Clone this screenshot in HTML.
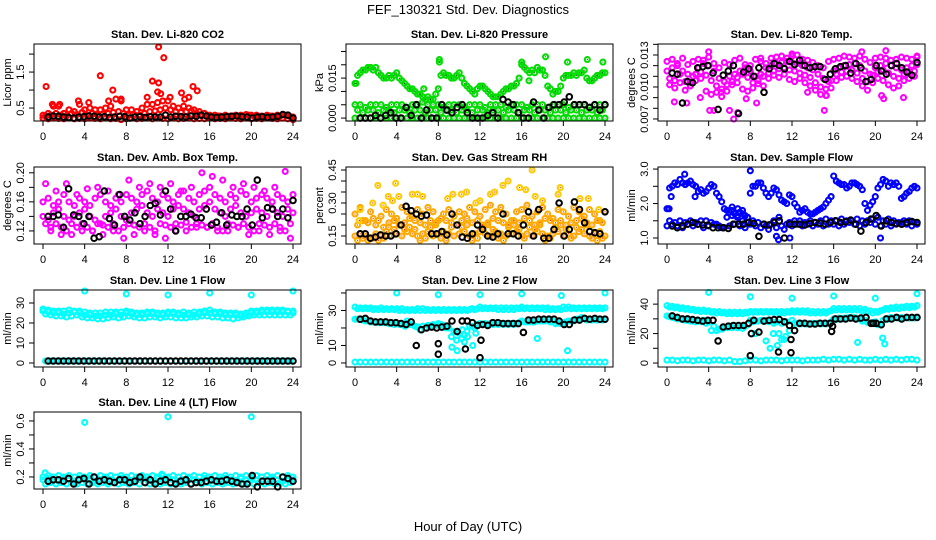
<!DOCTYPE html>
<html><head><meta charset="utf-8"><style>
html,body{margin:0;padding:0;background:#fff;}
svg{display:block;font-family:"Liberation Sans",Arial,sans-serif;}
</style></head><body>
<svg id="chart" width="936" height="540" viewBox="0 0 936 540">
<rect width="936" height="540" fill="#fff"/>
<text x="468" y="14" text-anchor="middle" font-size="13">FEF_130321  Std. Dev. Diagnostics</text>
<text x="468" y="531" text-anchor="middle" font-size="13">Hour of Day (UTC)</text>
</svg>
<script>
// ---- data: half-hour grid values (hour = offset + i*0.5) ----
const hourTicks=[0,4,8,12,16,20,24];
// P1 CO2
const co2Low=[0.22,0.2,0.22,0.21,0.2,0.22,0.2,0.21,0.2,0.22,0.21,0.2,0.22,0.2,0.21,0.18,0.2,0.22,0.2,0.21,0.22,0.2,0.22,0.21,0.2,0.22,0.2,0.21,0.22,0.2,0.21,0.2,0.22,0.2,0.21,0.2,0.22,0.21,0.2,0.22,0.2,0.21,0.2,0.22,0.21,0.2,0.22,0.2,0.18];
const co2Mid=[0.28,0.3,0.35,0.3,0.28,0.35,0.32,0.38,0.3,0.35,0.3,0.33,0.35,0.38,0.4,0.35,0.3,0.32,0.3,0.35,0.4,0.42,0.45,0.5,0.45,0.4,0.38,0.4,0.42,0.35,0.3,0.28,0.27,0.28,0.26,0.27,0.28,0.26,0.27,0.3,0.28,0.27,0.26,0.28,0.27,0.28,0.3,0.26];
const co2High=[0.3,0.35,0.55,0.55,0.35,0.45,0.4,0.6,0.45,0.5,0.45,0.45,0.5,0.55,0.75,0.7,0.45,0.45,0.4,0.5,0.6,0.6,0.65,0.7,0.7,0.55,0.5,0.55,0.5,0.45,0.4,0.35,0.3,0.3,0.28,0.3,0.28,0.3,0.3,0.32,0.3,0.3,0.28,0.3,0.28,0.3,0.32,0.3,0.25];
const co2OutH=[0.3,5.5,6.7,10.5,11.1,11.1,11.6,11.0,11.3,13.3,14.4,14.8,10,12.2,3.4,4.4,6.3,7.5,0.9,1.6,13.6,14];
const co2OutV=[1.1,1.4,1.0,1.25,1.2,2.2,1.9,0.95,0.9,0.92,1.1,0.98,0.8,0.8,0.7,0.65,0.7,0.75,0.6,0.6,0.75,0.8];
const co2Black=[0.25,0.28,0.27,0.25,0.24,0.22,0.25,0.26,0.28,0.27,0.25,0.26,0.24,0.25,0.27,0.26,0.22,0.25,0.26,0.24,0.26,0.25,0.25,0.3,0.25,0.27,0.26,0.25,0.28,0.27,0.3,0.28,0.25,0.24,0.25,0.26,0.27,0.28,0.26,0.25,0.22,0.25,0.26,0.24,0.25,0.27,0.32,0.3,0.22];
// P2 Pressure
const pZero=[0,0,0,0,0,0,0,0,0,0,0,0,0,0,0,0,0,0,0,0,0,0,0,0,0,0,0,0,0,0,0,0,0,0,0,0,0,0,0,0,0,0,0,0,0,0,0,0,0];
const pLow=[0.003,0.002,0.003,0.003,0.002,0.003,0.003,0.002,0.003,0.003,0.002,0.003,0.003,0.002,0.003,0.003,0.002,0.003,0.003,0.002,0.003,0.003,0.002,0.003,0.003,0.002,0.003,0.003,0.002,0.003,0.003,0.002,0.003,0.003,0.002,0.003,0.003,0.002,0.003,0.003,0.002,0.003,0.003,0.002,0.003,0.003,0.002,0.003];
const pMid=[0.005,0.005,0.004,0.005,0.005,0.005,0.004,0.005,0.005,0.005,0.004,0.005,0.005,0.006,0.005,0.005,0.005,0.004,0.005,0.005,0.005,0.004,0.005,0.005,0.005,0.004,0.005,0.005,0.005,0.004,0.005,0.005,0.005,0.004,0.005,0.005,0.005,0.004,0.005,0.005,0.005,0.004,0.005,0.005,0.005,0.004,0.005,0.005,0.005];
const pUp=[0.013,0.017,0.018,0.019,0.019,0.016,0.015,0.015,0.017,0.014,0.012,0.011,0.009,0.008,0.008,0.007,0.011,0.017,0.016,0.015,0.017,0.013,0.011,0.009,0.012,0.011,0.009,0.008,0.009,0.011,0.012,0.013,0.02,0.018,0.018,0.019,0.018,0.012,0.009,0.01,0.015,0.016,0.017,0.017,0.018,0.014,0.015,0.016,0.017];
const pUp2=[0.016,0.018,0.019,0.018,0.017,0.015,0.016,0.016,0.015,0.013,0.011,0.01,0.009,0.007,0.007,0.009,0.016,0.016,0.015,0.016,0.015,0.012,0.01,0.011,0.012,0.01,0.008,0.008,0.01,0.011,0.012,0.015,0.019,0.017,0.017,0.018,0.016,0.011,0.01,0.012,0.016,0.016,0.016,0.017,0.015,0.014,0.016,0.017];
const pOutH=[8.1,8.1,18.3,20.4,22.3,23.8,16,0.1,6.6,16.7];
const pOutV=[0.022,0.021,0.023,0.021,0.022,0.021,0.021,0.013,0.011,0.014];
const pBlack=[0,0,0,0.001,0,0.001,0.002,0,0,0.004,0.001,0.005,0,0.003,0,0,0.005,0.003,0.002,0.004,0.005,0.002,0,0,0,0.001,0.002,0,0.007,0.006,0.005,0.002,0,0,0.006,0.003,0,0.004,0.005,0.005,0.006,0.008,0.005,0.005,0.005,0.004,0.005,0.003,0.005];
// P3 Li-820 temp
const tA=[0.0115,0.0118,0.012,0.0115,0.0112,0.011,0.0118,0.0122,0.012,0.0115,0.0108,0.0105,0.011,0.0112,0.0115,0.0118,0.0115,0.011,0.0112,0.0118,0.012,0.0122,0.0123,0.0124,0.0123,0.0122,0.012,0.0118,0.0116,0.0112,0.0108,0.0105,0.0115,0.0118,0.012,0.0121,0.0122,0.012,0.0115,0.0112,0.0118,0.012,0.0122,0.012,0.0118,0.0116,0.0118,0.012,0.0121];
const tB=[0.0108,0.0106,0.0112,0.0105,0.0104,0.0112,0.0114,0.0111,0.0106,0.0101,0.0098,0.0102,0.0105,0.0109,0.0112,0.0109,0.0104,0.0106,0.011,0.0113,0.0115,0.0117,0.0118,0.0116,0.0115,0.0113,0.0111,0.0109,0.0104,0.01,0.0098,0.0106,0.0112,0.0114,0.0115,0.0116,0.0113,0.0108,0.0105,0.0111,0.0114,0.0116,0.0113,0.011,0.0108,0.0112,0.0114,0.0115];
const tC=[0.0124,0.0126,0.0122,0.0127,0.0121,0.0124,0.0126,0.0125,0.0128,0.0122,0.0118,0.0123,0.0121,0.0125,0.0127,0.0121,0.012,0.0126,0.0124,0.0122,0.0127,0.0128,0.0129,0.0127,0.0129,0.013,0.0126,0.0125,0.0123,0.012,0.0118,0.0124,0.0126,0.0127,0.0129,0.0128,0.0127,0.0129,0.0126,0.0123,0.0127,0.0128,0.0127,0.0125,0.0126,0.0128,0.0127,0.0126,0.0129];
const tD=[0.0102,0.0099,0.0104,0.0097,0.0101,0.0106,0.0108,0.0096,0.0093,0.0095,0.0091,0.0096,0.0102,0.0104,0.0098,0.0096,0.0099,0.0103,0.0101,0.0108,0.0111,0.0109,0.0112,0.0107,0.0105,0.0108,0.0104,0.0101,0.0097,0.0093,0.0092,0.0099,0.0106,0.0109,0.011,0.0108,0.0105,0.0101,0.0097,0.0104,0.0108,0.0106,0.0102,0.0099,0.0101,0.0106,0.0108,0.011];
const tOutH=[0.7,1.9,3.2,4.5,4.1,6.0,6.4,6.8,7.6,8.6,15.1,15.3,20.6,20.8,22.7,13.5,5.2,4,21,18.7,12,24,9];
const tOutV=[0.0086,0.0085,0.009,0.0078,0.0078,0.0078,0.007,0.0076,0.0089,0.0085,0.0078,0.0092,0.0092,0.0089,0.009,0.0095,0.0095,0.0133,0.0134,0.0133,0.0131,0.0128,0.0127];
const tBlack=[0.0113,0.0112,0.0085,0.0105,0.0104,0.0118,0.0119,0.012,0.0113,0.0079,0.0111,0.0115,0.012,0.0075,0.0114,0.0117,0.011,0.0118,0.0095,0.0117,0.0122,0.012,0.0117,0.0124,0.0121,0.0125,0.012,0.0118,0.0119,0.0119,0.0107,0.0112,0.0117,0.0119,0.012,0.0113,0.0122,0.0118,0.0105,0.0107,0.012,0.0115,0.0112,0.012,0.0122,0.0118,0.0114,0.0111,0.0123];
// P4 Amb box temp
const bA=[0.14,0.135,0.145,0.15,0.14,0.135,0.14,0.145,0.15,0.14,0.135,0.13,0.14,0.145,0.15,0.14,0.135,0.145,0.15,0.155,0.145,0.14,0.15,0.145,0.14,0.15,0.155,0.15,0.145,0.14,0.15,0.155,0.16,0.15,0.145,0.14,0.15,0.155,0.145,0.14,0.145,0.15,0.145,0.14,0.15,0.145,0.14,0.15,0.145];
const bB=[0.13,0.125,0.13,0.125,0.12,0.13,0.125,0.13,0.125,0.12,0.13,0.128,0.125,0.13,0.12,0.125,0.13,0.128,0.125,0.13,0.125,0.12,0.13,0.128,0.125,0.13,0.128,0.132,0.125,0.13,0.128,0.125,0.13,0.125,0.12,0.13,0.128,0.125,0.13,0.125,0.12,0.13,0.128,0.125,0.13,0.125,0.12,0.13];
const bC=[0.16,0.165,0.155,0.16,0.17,0.16,0.155,0.165,0.16,0.155,0.165,0.17,0.16,0.155,0.165,0.16,0.17,0.165,0.16,0.17,0.175,0.165,0.16,0.17,0.165,0.16,0.17,0.175,0.165,0.16,0.17,0.175,0.18,0.17,0.165,0.16,0.17,0.165,0.175,0.17,0.16,0.165,0.17,0.165,0.16,0.17,0.165,0.16,0.17];
const bD=[0.185,0.12,0.175,0.115,0.185,0.115,0.17,0.12,0.178,0.12,0.18,0.115,0.175,0.12,0.17,0.11,0.19,0.115,0.18,0.12,0.185,0.115,0.18,0.11,0.185,0.12,0.175,0.12,0.18,0.125,0.2,0.125,0.195,0.12,0.19,0.12,0.18,0.125,0.185,0.115,0.18,0.12,0.175,0.115,0.18,0.12,0.202,0.11];
const bBlack=[0.14,0.14,0.142,0.125,0.178,0.142,0.14,0.13,0.14,0.11,0.112,0.175,0.137,0.128,0.17,0.14,0.135,0.145,0.13,0.14,0.155,0.158,0.142,0.175,0.15,0.12,0.14,0.14,0.143,0.138,0.138,0.15,0.128,0.132,0.145,0.128,0.142,0.14,0.14,0.15,0.128,0.19,0.138,0.152,0.15,0.14,0.15,0.138,0.162];
// P5 RH
const rA=[0.15,0.16,0.15,0.14,0.16,0.15,0.17,0.15,0.16,0.15,0.17,0.16,0.15,0.16,0.17,0.15,0.16,0.17,0.16,0.15,0.16,0.17,0.15,0.16,0.17,0.16,0.15,0.17,0.16,0.15,0.16,0.17,0.15,0.16,0.15,0.17,0.16,0.15,0.16,0.17,0.15,0.16,0.15,0.17,0.16,0.15,0.16,0.17,0.15];
const rB=[0.13,0.14,0.13,0.14,0.13,0.14,0.19,0.18,0.2,0.18,0.19,0.18,0.13,0.14,0.19,0.2,0.14,0.13,0.19,0.2,0.19,0.2,0.13,0.14,0.19,0.2,0.18,0.14,0.13,0.19,0.2,0.18,0.14,0.19,0.18,0.2,0.13,0.14,0.19,0.2,0.18,0.14,0.19,0.18,0.2,0.14,0.13,0.14];
const rC=[0.25,0.28,0.22,0.26,0.2,0.24,0.27,0.25,0.23,0.28,0.26,0.24,0.27,0.25,0.28,0.26,0.22,0.25,0.27,0.24,0.26,0.25,0.28,0.26,0.24,0.27,0.29,0.26,0.28,0.25,0.22,0.26,0.27,0.29,0.24,0.26,0.28,0.25,0.23,0.27,0.26,0.24,0.28,0.26,0.24,0.27,0.25,0.22,0.26];
const rD=[0.2,0.22,0.21,0.23,0.22,0.19,0.21,0.22,0.2,0.21,0.23,0.22,0.21,0.2,0.22,0.21,0.23,0.22,0.21,0.2,0.22,0.23,0.21,0.22,0.2,0.21,0.23,0.22,0.21,0.2,0.22,0.21,0.23,0.22,0.2,0.21,0.23,0.22,0.21,0.22,0.2,0.21,0.22,0.23,0.21,0.2,0.22,0.21];
const rOutH=[0.4,0.5,1.7,2.2,2.7,3.2,3.6,3.9,4.2,5.5,6,6.5,8.9,9.4,10.2,10.7,11.6,13,13.4,14.2,14.7,15.8,16.4,17,17.3,18,19.5,19.7,21.6,22.4,23.4,12];
const rOutV=[0.22,0.27,0.3,0.38,0.29,0.33,0.31,0.39,0.33,0.34,0.34,0.33,0.32,0.34,0.34,0.35,0.3,0.34,0.35,0.38,0.4,0.37,0.36,0.45,0.33,0.31,0.34,0.37,0.32,0.32,0.27,0.31];
const rBlack=[0.16,0.16,0.14,0.145,0.155,0.15,0.15,0.16,0.2,0.285,0.265,0.25,0.24,0.245,0.16,0.16,0.17,0.155,0.25,0.2,0.145,0.14,0.16,0.2,0.18,0.15,0.145,0.16,0.25,0.16,0.16,0.15,0.2,0.26,0.15,0.27,0.14,0.14,0.18,0.3,0.15,0.18,0.305,0.27,0.21,0.17,0.165,0.16,0.26];
// P6 Sample flow
const fA=[1.35,1.4,1.35,1.3,1.4,1.35,1.4,1.3,1.35,1.4,1.35,1.3,1.35,1.4,1.35,1.3,1.4,1.35,1.3,1.35,1.4,1.3,1.35,1.4,1.35,1.4,1.35,1.4,1.35,1.4,1.35,1.4,1.4,1.35,1.4,1.45,1.4,1.35,1.4,1.45,1.4,1.35,1.4,1.35,1.4,1.45,1.4,1.35,1.4];
const fB=[1.5,1.45,1.5,1.45,1.5,1.45,1.5,1.5,1.45,1.4,1.3,1.6,1.65,1.6,1.5,1.45,1.5,1.45,1.4,1.25,1.5,1.6,1.25,1.45,1.5,1.5,1.45,1.5,1.45,1.5,1.55,1.5,1.5,1.55,1.5,1.5,1.55,1.5,1.5,1.55,1.6,1.5,1.55,1.5,1.45,1.5,1.5,1.45];
const fUp=[1.85,2.5,2.55,2.6,2.6,2.55,2.35,2.3,2.45,2.5,2.2,1.85,1.75,1.7,1.75,1.65,2.3,2.5,2.6,2.3,2.3,2.4,2.1,2.0,2.2,1.9,1.8,1.75,1.7,1.8,1.9,2.1,2.8,2.6,2.55,2.5,2.6,2.5,2.0,1.95,2.2,2.55,2.65,2.6,2.6,2.15,2.3,2.45,2.45];
const fUp2=[2.45,2.6,2.7,2.55,2.65,2.5,2.4,2.35,2.55,2.3,2.05,1.8,1.9,1.65,1.8,1.6,2.5,2.6,2.45,2.2,2.45,2.25,2.05,2.25,2.0,1.75,1.85,1.7,1.75,1.85,2.0,2.2,2.65,2.55,2.45,2.6,2.55,2.4,1.8,2.05,2.45,2.7,2.5,2.55,2.5,2.2,2.35,2.5];
const fOutH=[8,1.7,0.2,0.4,2.7,20.5,10.7,11.8,10.5,6.2,6.8,7.3];
const fOutV=[2.95,2.85,1.85,2.2,2.2,1.0,0.95,1.0,1.05,1.8,1.85,1.7];
const fBlack=[1.35,1.3,1.35,1.4,1.45,1.4,1.38,1.37,1.3,1.3,1.3,1.28,1.4,1.4,1.4,1.45,1.42,1.05,1.4,1.38,1.45,1.5,1.0,1.4,1.4,1.4,1.38,1.42,1.45,1.43,1.4,1.45,1.5,1.45,1.47,1.52,1.4,1.2,1.45,1.55,1.65,1.35,1.5,1.45,1.42,1.4,1.45,1.48,1.45];
// P7 Line 1
const l1A=[26,25.5,25,25,24.5,25,25.5,25,24,24,23.5,23.5,24,24,24.5,24,25,24.5,24,24,24.5,24.5,24,24,24.5,24.5,24,24,24,24,24.5,25,25,24.5,24.5,24,24,24,23.5,24,25,25,25.5,25.5,25.5,25.5,25.5,25.5,25];
const l1B=[24.5,24,23.5,23.5,23,23.5,24,23,22.5,22.5,22,22,22.5,23,22.5,23,23.5,23,22.5,22.5,23,23,22.5,23,23,22.5,22.5,22.5,23,23,23.5,23.5,23,23,22.5,22.5,22,22.5,23,23.5,24,24,24,24,24,24,24,24];
const l1C=[27,26.5,26,26,26,26.5,26,26,25.5,25,25,25,25.5,25.5,25.5,25.5,26,25.5,25,25,25.5,25.5,25,25,25.5,25.5,25,25.5,25,25.5,25.5,26,26.5,25.5,25.5,25,25,25,24.5,25,26,26,26.5,26.5,26.5,26.5,26.5,26,26];
const l1D=[1,1,1,1,1,1,1,1,1,1,1,1,1,1,1,1,1,1,1,1,1,1,1,1,1,1,1,1,1,1,1,1,1,1,1,1,1,1,1,1,1,1,1,1,1,1,1,1];
const l1OutH=[4,8,12,16,20,24];
const l1OutV=[36,34.5,34,35,34,36];
const l1Black=[1,1,1,1,1,1,1,1,1,1,1,1,1,1,1,1,1,1,1,1,1,1,1,1,1,1,1,1,1,1,1,1,1,1,1,1,1,1,1,1,1,1,1,1,1,1,1,1,1];
// P8 Line 2
const l2T=[32,31.5,31.5,31.5,31,31.5,31,31,31,31,30.5,30.5,31,31,30.5,30.5,30.5,30.5,30.5,30.5,30.5,30.5,30.5,30.5,32,31.5,31.5,31.5,31.5,31.5,31.5,31.5,32,31.5,31.5,31.5,31.5,31.5,31,31,32,32,31.5,31.5,31.5,31.5,31.5,31.5,31.5];
const l2T2=[31,31,31,30.5,30.5,30.5,30.5,30.5,30,30,30,30,30,30,30,30,30,30,30,30,30,30,31,31,31,31,31,30.5,30.5,30.5,30.5,31,31,31,31,31,30.5,30.5,30.5,30.5,31,31,31,31,31,31,31,31];
const l2M=[25,25,24,23.5,23.5,23.5,23,23,22.5,22,22.5,22,20.5,21,21.5,22,22.5,21.5,20,18,17,16,21,20,22.5,22.5,22.5,22.5,22.5,22.5,22.5,22.5,24,23.5,23.5,24,24,24.5,24,23,23,24,24,25,25.5,25,25,25,25];
const l2M2=[25,24.5,24,23.5,23,23,22.5,22,22,21.5,22,21,19,20,21,21.5,22,20,15,13,14,18,21,22,22,22,22,22,22,22,22,23,23.5,23.5,23.5,24,24,23.5,22.5,22.5,23.5,24,25,26,24.5,24.5,24.5,24.5];
const l2B=[0.5,0.5,0.5,0.5,0.5,0.5,0.5,0.5,0.5,0.5,0.5,0.5,0.5,0.5,0.5,0.5,0.5,0.5,0.5,0.5,0.5,0.5,0.5,0.5,0.5,0.5,0.5,0.5,0.5,0.5,0.5,0.5,0.5,0.5,0.5,0.5,0.5,0.5,0.5,0.5,0.5,0.5,0.5,0.5,0.5,0.5,0.5,0.5,0.5];
const l2OutH=[4,8,12,16,19.8,24,9.3,9.8,20.4,17.5,10.5,11.3,10.8,11.6,10.3,4.8,5];
const l2OutV=[40,39,39,39.5,38.5,40,9,7,7,14,12,10,15,17,19,21,24];
const l2Black=[25,25.5,24,23.5,23.5,23.5,23,23,22.5,22,23.5,10,19,20,20.5,20,20.5,21,24,18,24,24,23,21.5,22,21.5,23,23,22.5,22.5,22.5,22.5,17.5,24.5,24.5,25,25,25,25,24,22,22,24.5,24.5,25.5,25,25.5,25,25];
const l2BOutH=[8,8,10.6,12,12.1];
const l2BOutV=[11,5,8,3,13];
// P9 Line 3
const l3T=[39,38.5,38,37.5,37,36.5,36,36,35.5,35,35,34.5,34.5,34.5,34.5,34.5,35,35,35,35,35,35,35,35,35.5,35.5,35.5,35.5,35,35,35,35,37,37,37,37,37,37,36.5,35.5,35,35.5,37,37.5,38,38,38.5,38.5,39];
const l3T2=[38,37.5,37,36.5,36,35.5,35,35,34.5,34,34,33.5,33.5,33.5,33.5,34,34.5,34.5,34.5,34.5,34.5,34,34,34.5,34.5,34.5,34.5,34,34,34,34,35.5,36,36,36,36,36,35.5,35,34,34.5,36,36.5,37,37,37.5,37.5,38];
const l3M=[32,31,30,29.5,29,28.5,28.5,29,28,25,23,24,25,25.5,25,25,29,28.5,29,29,28.5,28,27,28,29,27,27,26.5,27,27,27,27,30,30.5,30.5,31,31,30,29,27,28,26,30,31,31,31,31,31,31];
const l3M2=[31.5,30.5,30,29,28.5,28,28,27,22,22,23,24,24,24,23.5,26,28,28.5,28.5,28,27,20,16,22,27,26.5,26.5,26.5,26.5,26.5,26.5,28,29.5,30,30.5,30.5,30,28.5,27.5,27.5,26,29,30,30.5,30.5,30.5,30.5,30.5];
const l3B=[2,2,1.5,2,2,1.5,2,2,1.5,2,2,1.5,2,1,1,1.5,2,2,1.5,2,2,2,1.5,2,2,2,1.5,2,2,2,2.5,2,2.5,2.5,2,2.5,2,2.5,2,2,2.5,2,2.5,2,2.5,2,2.5,2.5,2];
const l3OutH=[4,8,12,16,20,24,18.3,20.7,20.9,9.5,10.2,9.9,10.6,11,11.4,8.5];
const l3OutV=[48,45,44,45.5,44,47,14,17,13,15,20,10,12,16,18,20];
const l3Black=[32,31,30,30,29.5,29,28.5,29,29,15,24.5,25,25.5,25.5,25.5,27,29,21,28.5,29,29.5,29.5,28,25.5,22,27,27,26.5,26.5,27,27,27,30,30,30,30.5,30,30.5,31,27,27,26,30,30,31,30,31,31,31];
const l3BOutH=[8,8.1,10.7,11.9,11.9,15.8,15.9,19.8];
const l3BOutV=[5,20,7.5,7,16,21.5,25,27];
// P10 Line 4
const l4A=[0.18,0.19,0.18,0.17,0.19,0.18,0.17,0.19,0.18,0.19,0.17,0.18,0.19,0.18,0.17,0.19,0.18,0.17,0.18,0.19,0.18,0.17,0.19,0.18,0.19,0.18,0.17,0.18,0.19,0.18,0.17,0.19,0.18,0.17,0.18,0.19,0.18,0.17,0.19,0.18,0.19,0.18,0.17,0.18,0.19,0.18,0.17,0.19,0.18];
const l4B=[0.15,0.16,0.15,0.16,0.15,0.16,0.15,0.16,0.15,0.16,0.15,0.16,0.15,0.16,0.15,0.16,0.15,0.16,0.15,0.16,0.15,0.16,0.15,0.16,0.15,0.16,0.15,0.16,0.15,0.16,0.15,0.16,0.15,0.16,0.15,0.16,0.15,0.16,0.15,0.16,0.15,0.16,0.15,0.16,0.15,0.16,0.15,0.16];
const l4C=[0.2,0.21,0.2,0.21,0.2,0.21,0.2,0.21,0.2,0.21,0.2,0.21,0.2,0.21,0.2,0.21,0.2,0.21,0.2,0.21,0.2,0.21,0.2,0.21,0.2,0.21,0.2,0.21,0.2,0.21,0.2,0.21,0.2,0.21,0.2,0.21,0.2,0.21,0.2,0.21,0.2,0.21,0.2,0.21,0.2,0.21,0.2,0.21,0.2];
const l4OutH=[4,12,20,0.2,11.4];
const l4OutV=[0.59,0.63,0.63,0.23,0.22];
const l4Black=[0.17,0.18,0.18,0.17,0.19,0.15,0.18,0.19,0.15,0.2,0.17,0.18,0.17,0.16,0.18,0.18,0.16,0.17,0.2,0.16,0.18,0.15,0.17,0.18,0.16,0.15,0.17,0.18,0.15,0.16,0.16,0.17,0.18,0.17,0.17,0.18,0.17,0.16,0.15,0.15,0.21,0.13,0.17,0.17,0.17,0.13,0.2,0.19,0.17];

// ---- rendering ----
const NS='http://www.w3.org/2000/svg';
const svg=document.getElementById('chart');
const colLeft=[34,346,658], rowTop=[44,167,290,412], BW=267, BH=77;
function mk(tag,attrs,parent){const e=document.createElementNS(NS,tag);for(const k in attrs)e.setAttribute(k,attrs[k]);(parent||svg).appendChild(e);return e;}

function panel(p){
  const L=colLeft[p.col], T=rowTop[p.row], B=T+BH;
  const g=mk('g',{});
  
  
  const xs=h=>L+9+h*250/24;
  const ys=v=>B-(v-p.dom[0])/(p.dom[1]-p.dom[0])*BH;
  const pts=mk('g',{fill:'none'},g);
  
  
  function dot(h,v,col,black){
    if(h<0||h>24.1)return;
    const y=ys(v); if(y<T-2||y>B+2)return;
    const c=mk('circle',{cx:xs(h).toFixed(1),cy:y.toFixed(1),r:black?2.8:2.5,stroke:col,'stroke-width':black?2:2.1},pts);
    
    
    if(p.dot&&!black){mk('rect',{x:(xs(h)-0.5).toFixed(1),y:(y-0.5).toFixed(1),width:1,height:1,fill:p.dot},pts);}
  }
  p.series.forEach(([arr,off])=>arr.forEach((v,i)=>dot(off+i*0.5,v,p.color,false)));
  if(p.out) p.out[0].forEach((h,i)=>dot(h,p.out[1][i],p.outColor||p.color,false));
  p.black.forEach((v,i)=>dot(0.5+i*23.5/48,v,'#000',true));
  if(p.bout) p.bout[0].forEach((h,i)=>dot(h,p.bout[1][i],'#000',true));
  const box=mk('rect',{x:L,y:T,width:BW,height:BH,fill:'none',stroke:'#000','stroke-width':1},g);
  
  
  hourTicks.forEach(h=>{
    mk('line',{x1:xs(h),x2:xs(h),y1:B,y2:B+5,stroke:'#000'},g);
    const t=mk('text',{x:xs(h),y:B+19,'text-anchor':'middle','font-size':11},g);
    
    
    t.textContent=h;
  });
  p.ticks.forEach((v,i)=>{
    const y=ys(v);
    mk('line',{x1:L-5,x2:L,y1:y,y2:y,stroke:'#000'},g);
    const lab=p.labels[i];
    if(lab){
      const t=mk('text',{x:L-10,y:y,'text-anchor':'middle','font-size':11,transform:`rotate(-90 ${L-10} ${y})`},g);
      
      
      t.textContent=lab;
    }
  });
  const yt=mk('text',{x:L-23,y:T+BH/2,'text-anchor':'middle','font-size':11,transform:`rotate(-90 ${L-23} ${T+BH/2})`},g);
  
  
  yt.textContent=p.ytitle;
  const tt=mk('text',{x:L+BW/2,y:T-6,'text-anchor':'middle','font-size':11,'font-weight':'bold'},g);
  
  
  tt.textContent=p.title;
}

panel({name:'co2',col:0,row:0,dom:[0.14,2.28],title:'Stan. Dev. Li-820 CO2',ytitle:'Licor ppm',color:'#ff0000',
  ticks:[0.5,1,1.5,2],labels:['0.5','','1.5',''],series:[[co2Low,0],[co2Mid,0.25],[co2High,0]],out:[co2OutH,co2OutV],black:co2Black});
panel({name:'pressure',col:1,row:0,dom:[-0.0011,0.0278],title:'Stan. Dev. Li-820 Pressure',ytitle:'kPa',color:'#00dd00',dot:'#333',
  ticks:[0,0.005,0.01,0.015,0.02,0.025],labels:['0.000','','','0.015','',''],series:[[pZero,0],[pLow,0.25],[pMid,0],[pUp,0],[pUp2,0.25]],out:[pOutH,pOutV],black:pBlack});
panel({name:'li820-temp',col:2,row:0,dom:[0.00681,0.01403],title:'Stan. Dev. Li-820 Temp.',ytitle:'degrees C',color:'#ff00ff',
  ticks:[0.007,0.008,0.009,0.010,0.011,0.012,0.013,0.014],labels:['0.007','','','0.010','','','0.013',''],series:[[tA,0],[tB,0.25],[tC,0],[tD,0.25]],out:[tOutH,tOutV],black:tBlack});
panel({name:'box-temp',col:0,row:1,dom:[0.102,0.208],title:'Stan. Dev. Amb. Box Temp.',ytitle:'degrees C',color:'#ff00ff',
  ticks:[0.12,0.14,0.16,0.18,0.2],labels:['0.12','','0.16','','0.20'],series:[[bA,0],[bB,0.25],[bC,0],[bD,0.25]],black:bBlack});
panel({name:'gas-rh',col:1,row:1,dom:[0.1136,0.4636],title:'Stan. Dev. Gas Stream RH',ytitle:'percent',color:'#ffaa00',dot:'#ff0000',outColor:'#ffcc00',
  ticks:[0.15,0.2,0.25,0.3,0.35,0.4,0.45],labels:['0.15','','','0.30','','','0.45'],series:[[rA,0],[rB,0.25],[rC,0],[rD,0.25]],out:[rOutH,rOutV],black:rBlack});
panel({name:'sample-flow',col:2,row:1,dom:[0.826,3.06],title:'Stan. Dev. Sample Flow',ytitle:'ml/min',color:'#0000ff',
  ticks:[1,1.5,2,2.5,3],labels:['1.0','','2.0','','3.0'],series:[[fA,0],[fB,0.25],[fUp,0],[fUp2,0.25]],out:[fOutH,fOutV],black:fBlack});
panel({name:'line1-flow',col:0,row:2,dom:[-2,36.5],title:'Stan. Dev. Line 1 Flow',ytitle:'ml/min',color:'#00ffff',
  ticks:[0,10,20,30],labels:['0','10','20','30'],series:[[l1A,0],[l1B,0.25],[l1C,0],[l1D,0.25]],out:[l1OutH,l1OutV],black:l1Black});
panel({name:'line2-flow',col:1,row:2,dom:[-2.3,41.7],title:'Stan. Dev. Line 2 Flow',ytitle:'ml/min',color:'#00ffff',
  ticks:[0,10,20,30,40],labels:['0','10','','30',''],series:[[l2T,0],[l2T2,0.25],[l2M,0],[l2M2,0.25],[l2B,0]],out:[l2OutH,l2OutV],black:l2Black,bout:[l2BOutH,l2BOutV]});
panel({name:'line3-flow',col:2,row:2,dom:[-2.7,49.6],title:'Stan. Dev. Line 3 Flow',ytitle:'ml/min',color:'#00ffff',
  ticks:[0,10,20,30,40],labels:['0','','20','','40'],series:[[l3T,0],[l3T2,0.25],[l3M,0],[l3M2,0.25],[l3B,0]],out:[l3OutH,l3OutV],black:l3Black,bout:[l3BOutH,l3BOutV]});
panel({name:'line4-flow',col:0,row:3,dom:[0.114,0.664],title:'Stan. Dev. Line 4 (LT) Flow',ytitle:'ml/min',color:'#00ffff',
  ticks:[0.2,0.3,0.4,0.5,0.6],labels:['0.2','','0.4','','0.6'],series:[[l4A,0],[l4B,0.25],[l4C,0]],out:[l4OutH,l4OutV],black:l4Black});
</script>
</body></html>
